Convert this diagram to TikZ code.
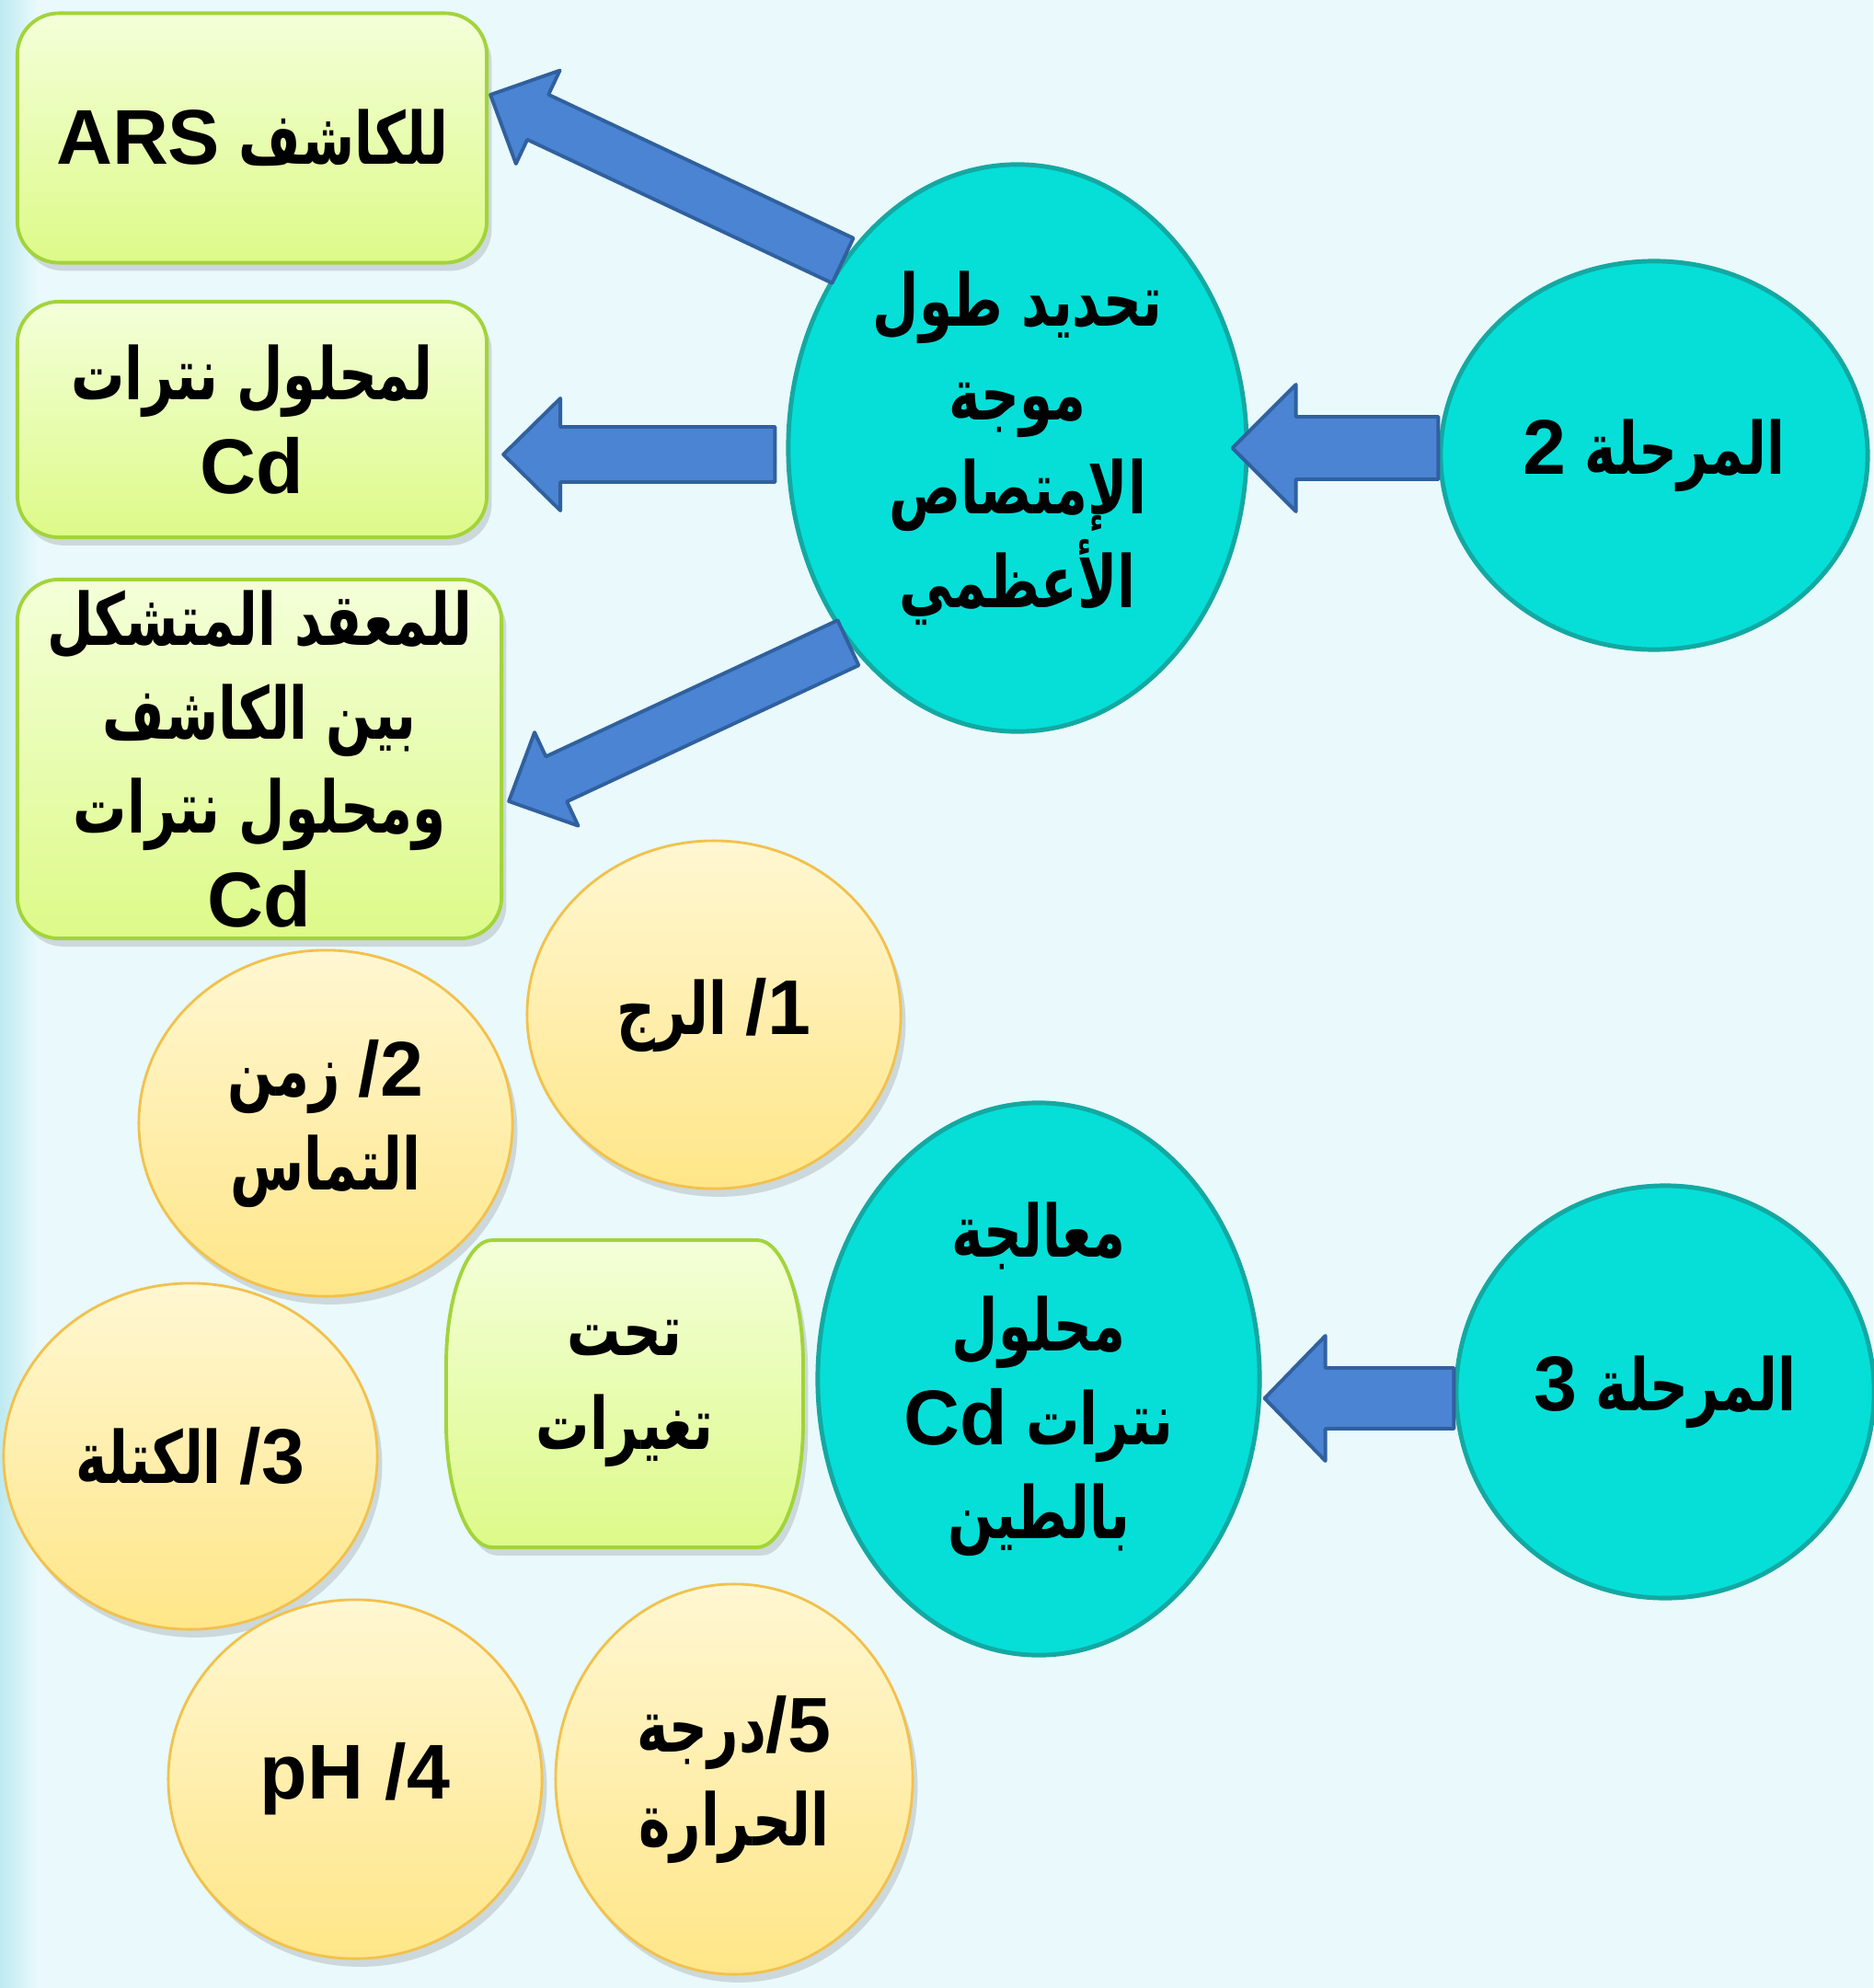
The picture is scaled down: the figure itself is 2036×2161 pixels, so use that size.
\documentclass[tikz,border=0pt]{standalone}
\usepackage{fontspec}
\usepackage{xcolor}
\usepackage{tikz}
\usetikzlibrary{calc}
\usetikzlibrary{shapes.geometric}
\usetikzlibrary{shadows}
\TeXXeTstate=1
\newfontfamily\arabicfont[Script=Arabic, Scale=0.93, FakeStretch=0.74]{DejaVu Sans}
\newfontfamily\latinfont{Liberation Sans}
\newcommand\artxt[1]{{\arabicfont\bfseries\beginR #1\endR}}
\newcommand\lattxt[1]{\beginL{\latinfont\bfseries #1}\endL}
\definecolor{fond}{HTML}{E9F9FC}
\definecolor{bord}{HTML}{BDEAF0}
\definecolor{turquoise}{HTML}{05DFD8}
\definecolor{turquoisefonce}{HTML}{14A8A2}
\definecolor{bleu}{HTML}{4A84D2}
\definecolor{bleufonce}{HTML}{30609E}
\definecolor{vertclair}{HTML}{F4FFD9}
\definecolor{vertfonce}{HTML}{DDFA88}
\definecolor{vertbord}{HTML}{A2D43A}
\definecolor{jauneclair}{HTML}{FFF7D2}
\definecolor{jaunefonce}{HTML}{FFE688}
\definecolor{jaunebord}{HTML}{F2C14C}
\tikzset{
    texte/.style = {font=\fontsize{24}{29}\selectfont, align=center, inner sep=0pt},
    ombre/.style = {drop shadow={shadow xshift=1.5pt, shadow yshift=-2.5pt, opacity=0.22, fill=black!60}},
    etape/.style = {shape=ellipse, draw=turquoisefonce, line width=1.4pt, fill=turquoise, texte},
    boite/.style = {shape=rectangle, rounded corners=0.45cm, draw=vertbord, line width=1.1pt, top color=vertclair, bottom color=vertfonce, ombre, texte},
    bulle/.style = {shape=ellipse, draw=jaunebord, line width=0.8pt, top color=jauneclair, bottom color=jaunefonce, ombre, texte},
    fleche/.style = {draw=bleufonce, line width=1.1pt, fill=bleu, line join=round}
}
% queue, pointe, demi-tige, demi-tete, longueur de la tete
\newcommand\flechebloc[5]{%
    \coordinate (fb) at ($(#2)!#5!(#1)$);
    \draw[fleche] ($(#1)!#3!90:(#2)$) -- ($(fb)!#3!90:(#2)$) -- ($(fb)!#4!90:(#2)$) -- (#2)
        -- ($(fb)!#4!-90:(#2)$) -- ($(fb)!#3!-90:(#2)$) -- ($(#1)!#3!-90:(#2)$) -- cycle;
}

\begin{document}
\begin{tikzpicture}[x=0.01cm, y=-0.01cm]
                \useasboundingbox (0,0) rectangle (2036,2161);
                \fill[fond] (0,0) rectangle (2036,2161);
                \shade[left color=bord, right color=fond] (0,0) rectangle (40,2161);
                % boites du haut
                \node (R1) [boite, minimum width=5.1cm, minimum height=2.71cm] at (274,150) {\artxt{للكاشف \lattxt{ARS}}};
                \node (R2) [boite, minimum width=5.1cm, minimum height=2.56cm] at (274,456) {\artxt{لمحلول نترات}\\\lattxt{Cd}};
                \node (R3) [boite, minimum width=5.26cm, minimum height=3.9cm] at (282,825) {\artxt{للمعقد المتشكل}\\\artxt{بين الكاشف}\\\artxt{ومحلول نترات}\\\lattxt{Cd}};
                % bulles
                \node (F1) [bulle, minimum width=4.06cm, minimum height=3.78cm] at (776,1103) {\artxt{\lattxt{/1} الرج}};
                \node (F2) [bulle, minimum width=4.06cm, minimum height=3.76cm] at (354,1221) {\artxt{\lattxt{/2} زمن}\\\artxt{التماس}};
                \node (F3) [bulle, minimum width=4.06cm, minimum height=3.76cm] at (207,1583) {\artxt{\lattxt{/3} الكتلة}};
                \node (F4) [bulle, minimum width=4.06cm, minimum height=3.9cm] at (386,1934) {\lattxt{pH /4}};
                \node (F5) [bulle, minimum width=3.88cm, minimum height=4.24cm] at (798,1934) {\artxt{\lattxt{/5}درجة}\\\artxt{الحرارة}};
                \shade[top color=vertclair, bottom color=vertfonce, draw=vertbord, line width=1.1pt, ombre]
                    (535,1348) -- (823,1348) .. controls (850,1348) and (873,1408) .. (873,1483) -- (873,1547)
                    .. controls (873,1622) and (850,1682) .. (823,1682) -- (535,1682)
                    .. controls (508,1682) and (485,1622) .. (485,1547) -- (485,1483)
                    .. controls (485,1408) and (508,1348) .. (535,1348) -- cycle;
                \node (T) [texte] at (679,1515) {\artxt{تحت}\\\artxt{تغيرات}};
                % etapes
                \node (E1) [etape, minimum width=4.98cm, minimum height=6.16cm] at (1106,487) {\artxt{تحديد طول}\\\artxt{موجة}\\\artxt{الإمتصاص}\\\artxt{الأعظمي}};
                \node (P2) [etape, minimum width=4.64cm, minimum height=4.22cm] at (1798,495) {\artxt{المرحلة \lattxt{2}}};
                \node (E2) [etape, minimum width=4.8cm, minimum height=6cm] at (1129,1499) {\artxt{معالجة}\\\artxt{محلول}\\\artxt{نترات \lattxt{Cd}}\\\artxt{بالطين}};
                \node (P3) [etape, minimum width=4.54cm, minimum height=4.48cm] at (1810,1513) {\artxt{المرحلة \lattxt{3}}};
                % fleches
                \coordinate (q1) at (E1.133);
                \coordinate (p1) at ($(R1.east)+(2,-47)$);
                \coordinate (q2) at ($(E1.west)+(-12,7)$);
                \coordinate (p2) at ($(R2.east)+(16,38)$);
                \coordinate (q3) at (E1.229);
                \coordinate (p3) at ($(R3.east)+(6,46)$);
                \coordinate (q4) at ($(P2.west)+(0,-8)$);
                \coordinate (p4) at ($(E1.east)+(-18,0)$);
                \coordinate (q5) at ($(P3.west)+(0,7)$);
                \coordinate (p5) at ($(E2.east)+(3,21)$);
                \flechebloc{q1}{p1}{0.27cm}{0.56cm}{0.57cm}
                \flechebloc{q2}{p2}{0.30cm}{0.61cm}{0.62cm}
                \flechebloc{q3}{p3}{0.27cm}{0.56cm}{0.57cm}
                \flechebloc{q4}{p4}{0.34cm}{0.69cm}{0.69cm}
                \flechebloc{q5}{p5}{0.33cm}{0.68cm}{0.66cm}
\end{tikzpicture}
\end{document}
